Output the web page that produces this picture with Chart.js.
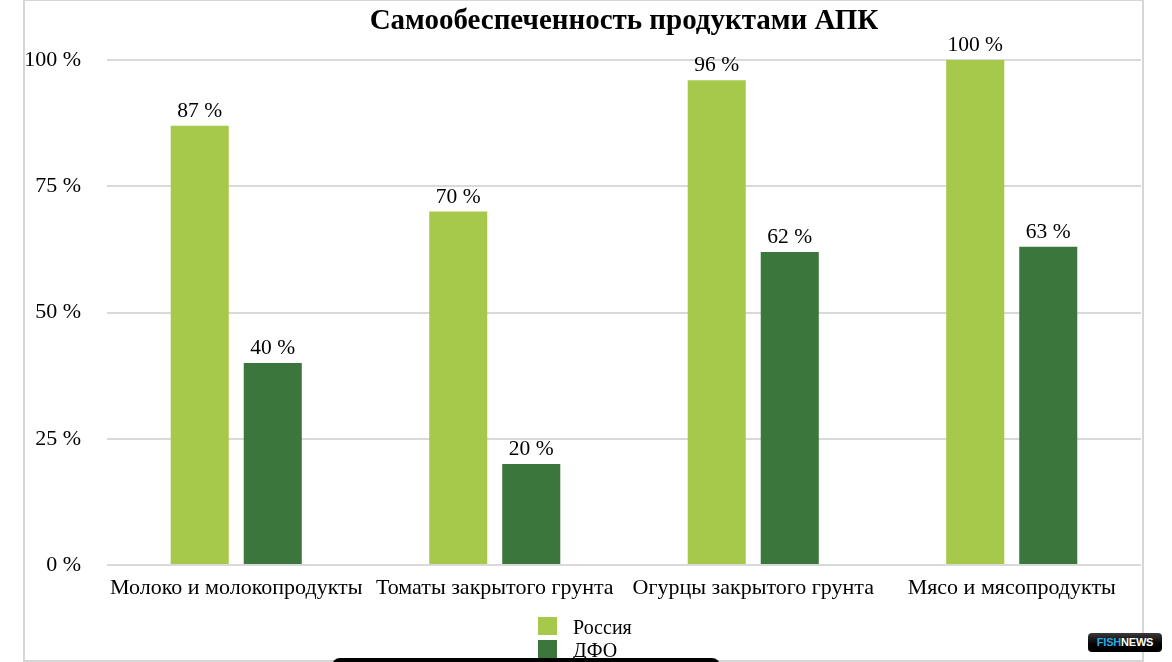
<!DOCTYPE html>
<html>
<head>
<meta charset="utf-8">
<script src="https://cdn.jsdelivr.net/npm/chart.js@4.4.1/dist/chart.umd.min.js"></script>
<style>
  html, body { margin: 0; padding: 0; background: #ffffff; }
  body { width: 1172px; height: 662px; position: relative; overflow: hidden; font-family: "Liberation Serif", "DejaVu Serif", serif; }
  #frame { position: absolute; left: 23px; top: -1px; width: 1117px; height: 659px; border: 2px solid #d6d6d6; }
  #wrap { position: absolute; left: 24px; top: 0px; width: 1118px; height: 640px; }
  #legend { position: absolute; left: 538px; top: 617px; }
  .li { position: relative; height: 23px; }
  .sw { position: absolute; left: 0; top: 0; width: 19px; height: 18px; }
  .lt { position: absolute; left: 35px; top: -2px; font-size: 20px; color: #000; white-space: nowrap; line-height: 24px; }
  #bar { position: absolute; left: 332px; top: 658px; width: 388px; height: 12px; background: #000; border-radius: 8px 8px 0 0; }
  #logo { position: absolute; left: 1088px; top: 633px; width: 74px; height: 19px; border-radius: 4px;
          background: linear-gradient(#3a3a3a, #000 60%); font-family: "Liberation Sans", Arial, sans-serif;
          font-weight: bold; font-size: 11px; line-height: 19px; text-align: center; letter-spacing: -0.2px; }
  #logo .f { color: #2aa9e6; } #logo .n { color: #ffffff; }
</style>
</head>
<body>
<div id="frame"></div>
<div id="wrap"><canvas id="c"></canvas></div>
<div id="legend"></div>
<div id="bar"></div>
<div id="logo"><span class="f">FISH</span><span class="n">NEWS</span></div>
<script>
const chartTitle = "Самообеспеченность продуктами АПК";
const categories = ["Молоко и молокопродукты", "Томаты закрытого грунта", "Огурцы закрытого грунта", "Мясо и мясопродукты"];
const seriesNames = ["Россия", "ДФО"];
const russiaValues = [87, 70, 96, 100];
const dfoValues = [40, 20, 62, 63];
const seriesColors = ["#a7c94b", "#3b763c"];
const yTicks = [0, 25, 50, 75, 100];

const serif = "'Liberation Serif', 'Times New Roman', serif";

const titlePlugin = {
  id: 'centerTitle',
  afterDraw(chart) {
    const ctx = chart.ctx, a = chart.chartArea;
    ctx.save();
    ctx.font = "bold 29px " + serif;
    ctx.fillStyle = "#000";
    ctx.textAlign = "center";
    ctx.textBaseline = "alphabetic";
    ctx.fillText(chartTitle, (a.left + a.right) / 2, 29);
    ctx.restore();
  }
};

const labelPlugin = {
  id: 'barLabels',
  afterDatasetsDraw(chart) {
    const ctx = chart.ctx;
    ctx.save();
    ctx.font = "21.5px " + serif;
    ctx.fillStyle = "#000";
    ctx.textAlign = "center";
    ctx.textBaseline = "alphabetic";
    chart.data.datasets.forEach((ds, di) => {
      chart.getDatasetMeta(di).data.forEach((el, i) => {
        ctx.fillText(ds.data[i] + " %", el.x, el.y - 9);
      });
    });
    ctx.restore();
  }
};

const chart = new Chart(document.getElementById('c'), {
  type: 'bar',
  data: {
    labels: categories,
    datasets: [
      { label: seriesNames[0], data: russiaValues, backgroundColor: seriesColors[0] },
      { label: seriesNames[1], data: dfoValues, backgroundColor: seriesColors[1] }
    ]
  },
  options: {
    responsive: true,
    maintainAspectRatio: false,
    animation: false,
    devicePixelRatio: 1,
    categoryPercentage: 0.565,
    barPercentage: 0.795,
    layout: { padding: { top: 60, right: 1, left: 0, bottom: 0 } },
    plugins: { legend: { display: false }, title: { display: false }, tooltip: { enabled: false } },
    scales: {
      x: {
        grid: { display: false },
        border: { display: false },
        ticks: { font: { family: serif, size: 22 }, color: "#000", padding: 2, maxRotation: 0, autoSkip: false },
        afterFit(s) { s.height = 75; }
      },
      y: {
        min: 0, max: 100,
        afterBuildTicks(s) { s.ticks = yTicks.map(v => ({ value: v })); },
        grid: { color: "#d9d9d9", lineWidth: 2, drawTicks: false },
        border: { display: false },
        ticks: { font: { family: serif, size: 22 }, color: "#000", padding: 26, callback: v => v + " %" },
        afterFit(s) { s.width = 83; }
      }
    }
  },
  plugins: [titlePlugin, labelPlugin]
});

const lg = document.getElementById('legend');
seriesNames.forEach((n, i) => {
  const d = document.createElement('div'); d.className = 'li';
  const s = document.createElement('div'); s.className = 'sw'; s.style.background = seriesColors[i];
  const t = document.createElement('div'); t.className = 'lt'; t.textContent = n;
  d.appendChild(s); d.appendChild(t); lg.appendChild(d);
});
</script>
</body>
</html>
